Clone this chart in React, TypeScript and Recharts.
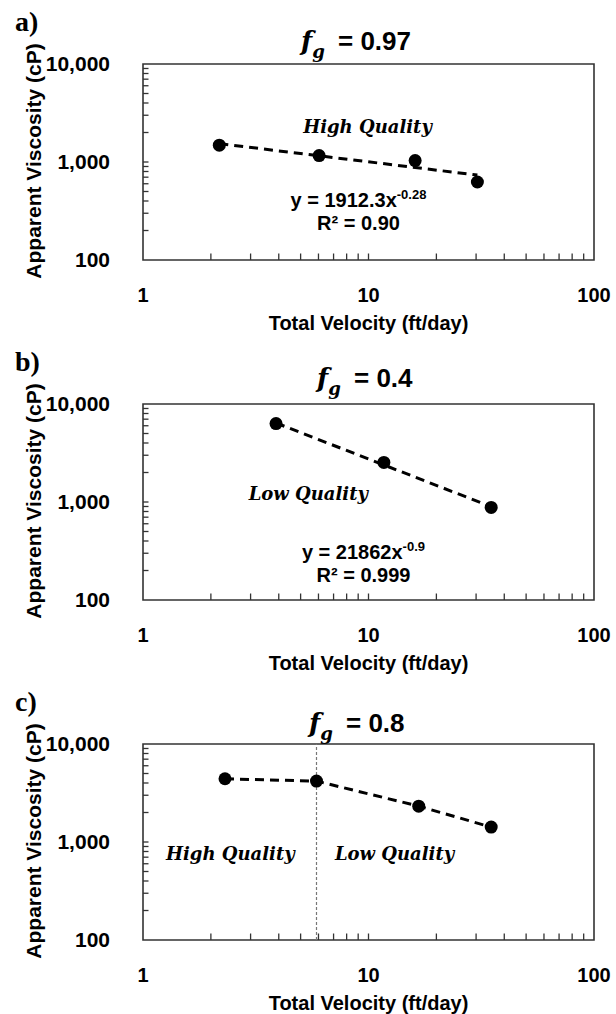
import React from 'react';
import {
  ScatterChart,
  Scatter,
  XAxis,
  YAxis,
  ReferenceArea,
  ReferenceLine,
  ReferenceDot,
  Label,
} from 'recharts';

// axis ticks (log-log)
const xTicks = [1, 10, 100];
const xInnerTicks = [2, 3, 4, 5, 6, 7, 8, 9, 10, 20, 30, 40, 50, 60, 70, 80, 90];
const yTicks = [100, 1000, 10000];
const yInnerTicks = [200, 300, 400, 500, 600, 700, 800, 900, 1000, 2000, 3000, 4000, 5000, 6000, 7000, 8000, 9000];

// a) fg = 0.97
const velocityA = [2.18, 6.04, 16.1, 30.4];
const viscosityA = [1486, 1163, 1033, 625];
const trendVelocityA = [2.18, 30.4];
const trendViscosityA = [1540, 735];

// b) fg = 0.4
const velocityB = [3.89, 11.7, 35.0];
const viscosityB = [6310, 2535, 881];
const trendVelocityB = [3.89, 35.0];
const trendViscosityB = [6400, 895];

// c) fg = 0.8
const velocityC = [2.31, 5.88, 16.7, 35.0];
const viscosityC = [4418, 4180, 2322, 1419];
const transitionC = 5.88;

const SANS = '"Liberation Sans", Arial, sans-serif';
const MATH = '"DejaVu Serif", serif';
const INK = '#000';
const FRAME = '#333';

type Pt = { x: number; y: number };
type Note = { text: string; x: number; y: number };
type Eq = { lead: string; power: string; r2: string; x: number; y: number };

const toPts = (xs: number[], ys: number[]): Pt[] => xs.map((x, i) => ({ x, y: ys[i] }));

const panels = [
  {
    letter: 'a)',
    fg: '= 0.97',
    titleX: 301,
    titleY: 50,
    points: toPts(velocityA, viscosityA),
    trend: toPts(trendVelocityA, trendViscosityA),
    notes: [{ text: 'High Quality', x: 9.9, y: 2312 }] as Note[],
    eq: { lead: 'y = 1912.3x', power: '-0.28', r2: 'R² = 0.90', x: 9.03, y: 350 } as Eq | null,
    divider: null as number | null,
  },
  {
    letter: 'b)',
    fg: '= 0.4',
    titleX: 317,
    titleY: 47,
    points: toPts(velocityB, viscosityB),
    trend: toPts(trendVelocityB, trendViscosityB),
    notes: [{ text: 'Low Quality', x: 5.41, y: 1222 }] as Note[],
    eq: { lead: 'y = 21862x', power: '-0.9', r2: 'R² = 0.999', x: 9.5, y: 263 } as Eq | null,
    divider: null as number | null,
  },
  {
    letter: 'c)',
    fg: '= 0.8',
    titleX: 309,
    titleY: 52,
    points: toPts(velocityC, viscosityC),
    trend: null as Pt[] | null,
    notes: [
      { text: 'High Quality', x: 2.44, y: 762 },
      { text: 'Low Quality', x: 13.05, y: 762 },
    ] as Note[],
    eq: null as Eq | null,
    divider: transitionC as number | null,
  },
];

const dashed = { stroke: INK, strokeWidth: 3, strokeDasharray: '9 6' };
const tickFont = { fill: INK, fontSize: 20, fontWeight: 'bold', fontFamily: SANS };
const tickStroke = { stroke: FRAME, strokeWidth: 1.3 };

const Dot = (p: any) => <circle cx={p.cx} cy={p.cy} r={6.5} fill={INK} />;
const NoDot = () => <g />;
const NoTick = () => <g />;

const XTitle = (p: any) => {
  const vb = p.viewBox;
  return (
    <text x={vb.x + vb.width / 2} y={vb.y + 70} textAnchor="middle" fontFamily={SANS} fontWeight="bold" fontSize={20} fill={INK}>
      Total Velocity (ft/day)
    </text>
  );
};

const YTitle = () => (
  <text transform="translate(41, 161) rotate(-90)" textAnchor="middle" fontFamily={SANS} fontWeight="bold" fontSize={21} fill={INK}>
    Apparent Viscosity (cP)
  </text>
);

function equationLabel(eq: Eq) {
  return (p: any) => {
    const vb = p.viewBox;
    const cx = vb.x + vb.width / 2;
    const cy = vb.y + vb.height / 2;
    return (
      <g>
        <text x={cx} y={cy} textAnchor="middle" fontFamily={SANS} fontWeight="bold" fontSize={20} fill={INK}>
          {eq.lead}
          <tspan dy={-8} fontSize={13}>{eq.power}</tspan>
        </text>
        <text x={cx} y={cy + 23} textAnchor="middle" fontFamily={SANS} fontWeight="bold" fontSize={20} fill={INK}>
          {eq.r2}
        </text>
      </g>
    );
  };
}

function Panel({ panel }: { panel: (typeof panels)[number] }) {
  return (
    <ScatterChart width={616} height={340} margin={{ top: 64, right: 22, bottom: 0, left: 0 }}>
      {/* inner tick rows: mirrored 1px axes sitting on the plot edge */}
      <XAxis
        xAxisId="inner"
        type="number"
        dataKey="x"
        scale="log"
        domain={[1, 100]}
        allowDataOverflow
        ticks={xInnerTicks}
        interval={0}
        mirror
        tick={NoTick}
        tickSize={6.5}
        tickLine={tickStroke}
        axisLine={false}
        height={1}
      />
      <YAxis
        yAxisId="inner"
        type="number"
        dataKey="y"
        scale="log"
        domain={[100, 10000]}
        allowDataOverflow
        ticks={yInnerTicks}
        interval={0}
        mirror
        tick={NoTick}
        tickSize={5.5}
        tickLine={tickStroke}
        axisLine={false}
        width={1}
      />
      <XAxis
        type="number"
        dataKey="x"
        scale="log"
        domain={[1, 100]}
        allowDataOverflow
        ticks={xTicks}
        interval={0}
        tick={tickFont}
        tickLine={false}
        tickMargin={22}
        axisLine={false}
        height={80}
      >
        <Label content={XTitle} />
      </XAxis>
      <YAxis
        type="number"
        dataKey="y"
        scale="log"
        domain={[100, 10000]}
        allowDataOverflow
        ticks={yTicks}
        interval={0}
        tick={{ ...tickFont, fontSize: 21 }}
        tickLine={false}
        tickMargin={27}
        tickFormatter={(v: number) => v.toLocaleString('en-US')}
        axisLine={false}
        width={143}
      >
        <Label content={YTitle} />
      </YAxis>
      <ReferenceArea x1={1} x2={100} y1={100} y2={10000} fill="none" stroke={FRAME} strokeWidth={1.6} ifOverflow="visible" />
      {panel.divider !== null && (
        <ReferenceLine x={panel.divider} stroke="#777" strokeWidth={1.2} strokeDasharray="3 2" />
      )}
      {panel.trend && (
        <Scatter data={panel.trend} line={dashed} shape={NoDot} isAnimationActive={false} />
      )}
      <Scatter
        data={panel.points}
        line={panel.trend ? false : dashed}
        shape={Dot}
        isAnimationActive={false}
      />
      {panel.notes.map((n) => (
        <ReferenceDot
          key={n.text}
          x={n.x}
          y={n.y}
          r={1}
          fill="none"
          stroke="none"
          ifOverflow="visible"
          label={{
            value: n.text,
            position: 'center',
            fill: INK,
            fontSize: 18,
            fontStyle: 'italic',
            fontWeight: 'bold',
            fontFamily: MATH,
          }}
        />
      ))}
      {panel.eq && (
        <ReferenceDot
          x={panel.eq.x}
          y={panel.eq.y}
          r={1}
          fill="none"
          stroke="none"
          ifOverflow="visible"
          label={equationLabel(panel.eq)}
        />
      )}
    </ScatterChart>
  );
}

export default function App() {
  return (
    <div style={{ position: 'absolute', left: 0, top: 0, width: 616, height: 1014, background: '#fff' }}>
      {panels.map((p, i) => (
        <div key={p.letter} style={{ position: 'absolute', left: 0, top: i * 340, width: 616, height: 340 }}>
          <Panel panel={p} />
        </div>
      ))}
      <svg width={616} height={1014} style={{ position: 'absolute', left: 0, top: 0, pointerEvents: 'none' }}>
        {panels.map((p, i) => (
          <g key={p.letter}>
            <text x={15} y={i * 340 + 31} fontFamily='"Liberation Serif", serif' fontWeight="bold" fontSize={28} fill={INK}>
              {p.letter}
            </text>
            <text x={p.titleX} y={i * 340 + p.titleY} fontFamily={MATH} fontStyle="italic" fontWeight="bold" fontSize={26} fill={INK}>
              f<tspan dy={8} fontSize={18}>g</tspan>
            </text>
            <text x={p.titleX + 37} y={i * 340 + p.titleY} fontFamily={SANS} fontWeight="bold" fontSize={26} fill={INK}>
              {p.fg}
            </text>
          </g>
        ))}
      </svg>
    </div>
  );
}
